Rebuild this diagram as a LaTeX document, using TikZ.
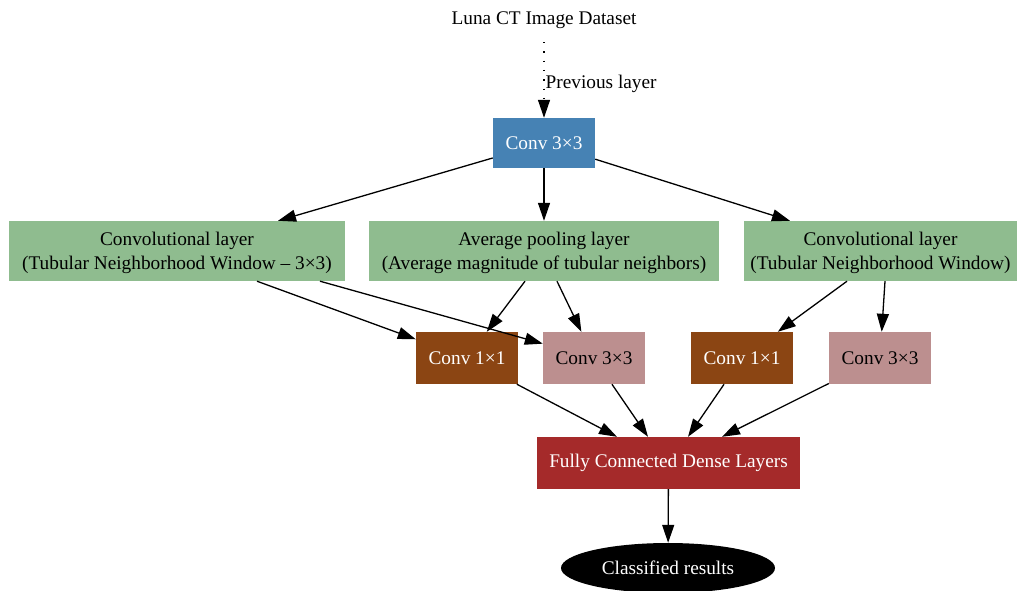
\documentclass[tikz,border=0pt]{standalone}
\usepackage{fontspec}
\setmainfont{Liberation Serif}
\usepackage{tikz}
\usetikzlibrary{arrows.meta,shapes.geometric}
\definecolor{steelblue}{HTML}{4682B4}
\definecolor{seagreen}{HTML}{8FBC8F}
\definecolor{saddle}{HTML}{8B4513}
\definecolor{rosy}{HTML}{BC8F8F}
\definecolor{brick}{HTML}{A52A2A}

\begin{document}
\begin{tikzpicture}[x=1pt,y=-1pt,
	every node/.style={font=\fontsize{19.3}{24}\selectfont},
	box/.style={rectangle,inner sep=0pt,align=center},
	greenbox/.style={box,fill=seagreen,minimum height=60pt,text depth=0pt},
	smallbox/.style={box,minimum width=102pt,minimum height=52pt},
	arr/.style={-{Triangle[length=18pt,width=12pt]},line width=1.3pt}]
		\useasboundingbox (0,0) rectangle (1017,590);
		\node (data) at (544,20) {Luna CT Image Dataset};
		\node[box,fill=steelblue,text=white,minimum width=102pt,minimum height=50pt] (conv) at (544,143) {Conv 3×3};
		\node[greenbox,minimum width=336pt] (tnw) at (177,251) {Convolutional layer\\(Tubular Neighborhood Window – 3×3)};
		\node[greenbox,minimum width=350pt] (avg) at (544,251) {Average pooling layer\\(Average magnitude of tubular neighbors)};
		\node[greenbox,minimum width=273pt] (tnwb) at (880.5,251) {Convolutional layer\\(Tubular Neighborhood Window)};
		\node[smallbox,fill=saddle,text=white] (c1a) at (467,358) {Conv 1×1};
		\node[smallbox,fill=rosy] (c3a) at (594,358) {Conv 3×3};
		\node[smallbox,fill=saddle,text=white] (c1b) at (742,358) {Conv 1×1};
		\node[smallbox,fill=rosy] (c3b) at (880,358) {Conv 3×3};
		\node[box,fill=brick,text=white,minimum width=263pt,minimum height=52pt] (fc) at (668.5,463) {Fully Connected Dense Layers};
		\node[ellipse,fill=black,text=white,inner sep=0pt,minimum width=214pt,minimum height=50pt] (res) at (668,568) {Classified results};
		% input
		\draw[arr,dash pattern=on 1.3pt off 8pt,shorten <=10pt] (data) -- node[pos=0.6,right,inner sep=1pt] {Previous layer} (conv);
		% first conv to branches
		\draw[arr] (conv) -- ([xshift=101pt]tnw.north);
		\draw[arr] (conv) -- (avg);
		\draw[arr] (conv) -- ([xshift=-90.5pt]tnwb.north);
		% branches to small convs
		\draw[arr] ([xshift=80pt]tnw.south) -- (c1a);
		\draw[arr] ([xshift=143pt]tnw.south) -- (c3a);
		\draw[arr] ([xshift=-19pt]avg.south) -- (c1a);
		\draw[arr] ([xshift=13pt]avg.south) -- (c3a);
		\draw[arr] ([xshift=-33.5pt]tnwb.south) -- (c1b);
		\draw[arr] ([xshift=4.5pt]tnwb.south) -- (c3b);
		% small convs to dense layers
		\draw[arr] (c1a) -- ([xshift=-51.5pt]fc.north);
		\draw[arr] (c3a) -- ([xshift=-20.5pt]fc.north);
		\draw[arr] (c1b) -- ([xshift=19.5pt]fc.north);
		\draw[arr] (c3b) -- ([xshift=53.5pt]fc.north);
		\draw[arr] (fc) -- (res);
\end{tikzpicture}
\end{document}
